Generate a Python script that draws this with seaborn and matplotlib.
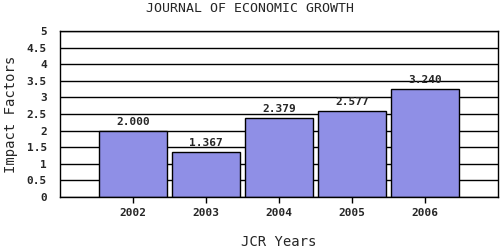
import numpy as np
import pandas as pd
import seaborn as sns
import matplotlib
matplotlib.use('Agg')
import matplotlib.pyplot as plt

years = ['2002', '2003', '2004', '2005', '2006']
impact = [2.000, 1.367, 2.379, 2.577, 3.240]
labels = ['2.000', '1.367', '2.379', '2.577', '3.240']
yticks = [0, 0.5, 1, 1.5, 2, 2.5, 3, 3.5, 4, 4.5, 5]

df = pd.DataFrame({'year': years, 'impact': impact})

sns.set_style('white')
plt.rcParams['font.family'] = ['DejaVu Sans Mono']

fig = plt.figure(figsize=(5, 2.5), dpi=100)
ax = fig.add_axes([60/500, 53/250, 438/500, 166/250])

sns.barplot(data=df, x='year', y='impact', color='#8f8fe6', saturation=1,
            edgecolor='black', linewidth=1, width=0.92, ax=ax, zorder=2)

ax.set_xlim(-1, 5)
ax.set_ylim(0, 5)
ax.set_yticks(yticks)
ax.set_yticklabels([('%g' % t) for t in yticks], fontsize=8, fontweight='bold')
ax.set_xticklabels(years, fontsize=8, fontweight='bold')
ax.yaxis.grid(True, color='black', linewidth=1, zorder=0)
ax.set_axisbelow(True)
for s in ax.spines.values():
    s.set_color('black')
    s.set_linewidth(1)
ax.tick_params(axis='x', bottom=True, length=4, width=1, color='black', pad=4)
ax.tick_params(axis='y', left=False, pad=6)

for i, v in enumerate(impact):
    ax.text(i, v + 0.12, labels[i], ha='center', va='bottom', fontsize=8, fontweight='bold')

ax.set_xlabel('JCR Years', fontsize=10, va='center')
ax.xaxis.set_label_coords(0.5, -0.27)
ax.set_ylabel('Impact Factors', fontsize=10, labelpad=6)
fig.text(0.5, 0.965, 'JOURNAL OF ECONOMIC GROWTH', ha='center', va='center', fontsize=9.5)

fig.savefig('out.png', dpi=100)
